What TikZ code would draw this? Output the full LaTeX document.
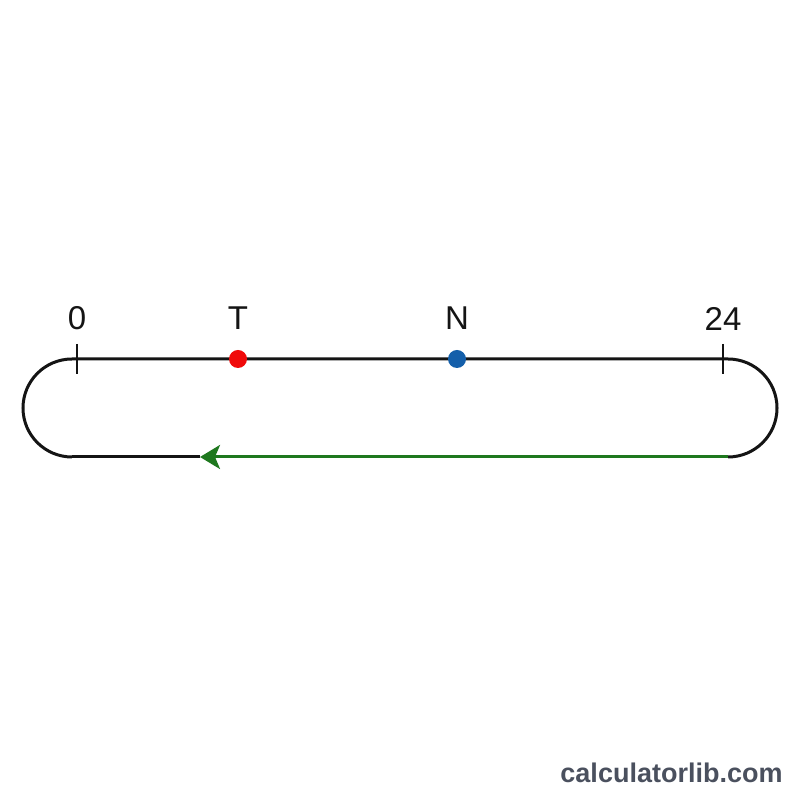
\documentclass[tikz,border=0pt]{standalone}
\usepackage{fontspec}
\setmainfont{Liberation Sans}
\usetikzlibrary{arrows.meta}
\definecolor{loopgreen}{RGB}{30,120,30}
\definecolor{dotred}{RGB}{240,10,10}
\definecolor{dotblue}{RGB}{20,95,170}
\definecolor{markgray}{RGB}{74,80,94}
\definecolor{linegray}{RGB}{20,20,20}
\tikzset{
  every label/.style={font=\fontsize{33}{39}\selectfont},
  dot/.style={circle, inner sep=0pt, minimum size=18pt},
  tickmark/.style={line width=2.6pt}
}
\begin{document}
\begin{tikzpicture}[x=1pt, y=1pt, line width=3pt, >=Stealth, color=linegray]
    \useasboundingbox (0,0) rectangle (800,800);

    \coordinate (top-left) at (72,441);
    \coordinate (top-right) at (728,441);
    \coordinate (bottom-left) at (72,343);
    \coordinate (bottom-right) at (728,343);
    \coordinate (arrow-tip) at (200,343);

    % loop
    \draw (bottom-left) arc[start angle=270, end angle=90, radius=49]
      -- (top-right) arc[start angle=90, end angle=-90, radius=49];
    \draw (arrow-tip) -- (bottom-left);
    \draw [loopgreen, -{Stealth[length=20pt, width=24pt, inset=5pt]}]
      (bottom-right) -- (arrow-tip);

    % ticks and labels
    \foreach \l/\x in {0/77, 24/723} {
      \coordinate (tick-\l) at (\x,441);
      \draw [tickmark] (tick-\l) ++(0,15) -- ++(0,-30);
      \node [every label] (label-\l) at (\x,481.5) {\l};
    }

    % points
    \foreach \l/\x/\c in {T/238/dotred, N/457/dotblue} {
      \node [dot, fill=\c] (point-\l) at (\x,441) {};
      \node [every label] (label-\l) at (\x,481.5) {\l};
    }

    \node [font=\bfseries\fontsize{27}{31}\selectfont, text=markgray]
      (watermark) at (671.5,27.5) {calculatorlib.com};
\end{tikzpicture}
\end{document}
